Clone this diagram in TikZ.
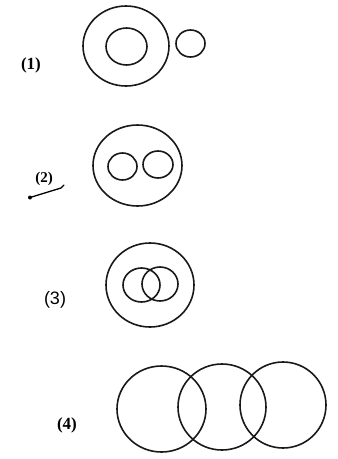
\documentclass[tikz,border=0pt]{standalone}
\usepackage{fontspec}
\setmainfont{Liberation Serif}
\newfontfamily\labsans{Liberation Sans}
\begin{document}
\begin{tikzpicture}[x=1pt,y=-1pt,
  ring/.style={draw=black!90,line width=1.6pt},
  lab/.style={font=\fontsize{17}{19}\selectfont\bfseries,inner sep=0pt}]
\useasboundingbox (0,0) rectangle (338,459);
% (1)
\node[lab] (l1) at (31,65) {(1)};
\draw[ring] (126,46) ellipse [x radius=43,y radius=40];
\draw[ring] (126.5,46.5) ellipse [x radius=20.5,y radius=18.5];
\draw[ring] (190.5,43.5) ellipse [x radius=14.5,y radius=13.5];
% (2)
\node[lab,font=\fontsize{15}{17}\selectfont\bfseries] (l2) at (44,179) {(2)};
\coordinate (u1) at (30,197.5);
\coordinate (u2) at (61,188);
\coordinate (u3) at (64,185);
\draw[line width=1.3pt,line cap=round] (u1) -- (u2) -- (u3);
\fill (u1) circle [radius=2];
\draw[ring] (137.5,165.5) ellipse [x radius=44.5,y radius=40.5];
\draw[ring] (122.5,166.5) ellipse [x radius=14.5,y radius=13.5];
\draw[ring] (158,164.5) ellipse [x radius=15,y radius=13.5];
% (3)
\node[lab,font=\fontsize{18}{20}\selectfont\labsans] (l3) at (55,300) {(3)};
\draw[ring] (150,285) ellipse [x radius=44,y radius=42];
\draw[ring] (141.5,285) ellipse [x radius=18.5,y radius=17];
\draw[ring] (160,284) ellipse [x radius=18,y radius=17];
% (4)
\node[lab] (l4) at (67,425) {(4)};
\draw[ring] (161.5,409) ellipse [x radius=44.5,y radius=43];
\draw[ring] (222,407) ellipse [x radius=44,y radius=43];
\draw[ring] (283,405) ellipse [x radius=43,y radius=43];
\end{tikzpicture}
\end{document}
